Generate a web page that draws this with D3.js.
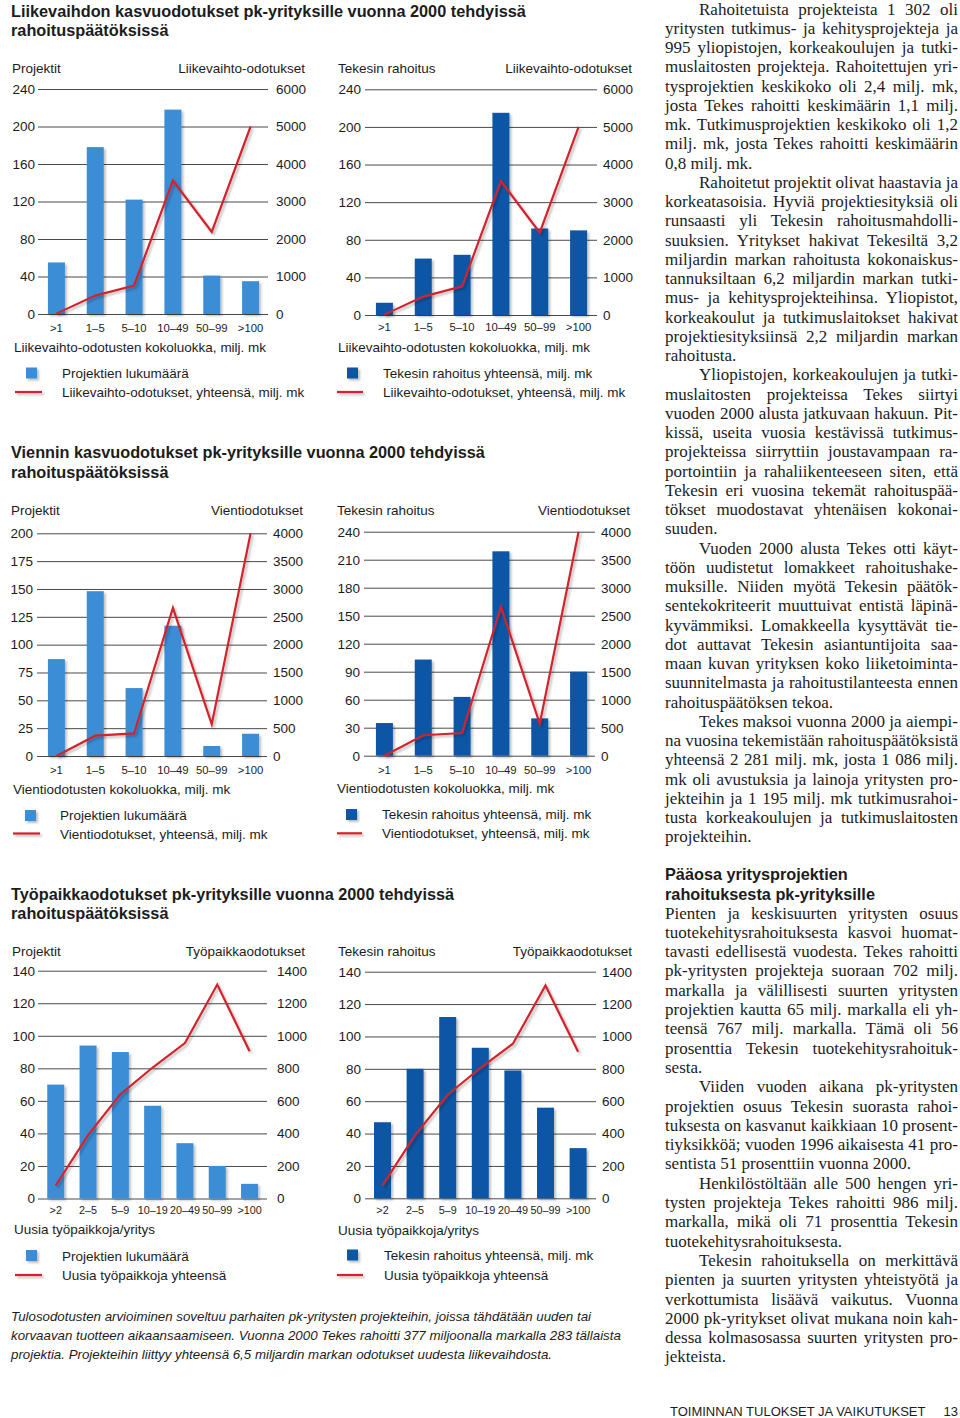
<!DOCTYPE html>
<html><head><meta charset="utf-8">
<script src="https://cdn.jsdelivr.net/npm/d3@7"></script>
<style>
body{margin:0;background:#fff;}
svg{display:block;}
text{font-family:"Liberation Sans",Arial,Helvetica,sans-serif;fill:#1c1c1c;}
</style></head><body>
<svg id="page" width="960" height="1418"></svg>
<script>
// ---------- DATA ----------
const salesCategories = [">1","1–5","5–10","10–49","50–99",">100"];
const salesProjects = [55,178,122,218,41,35];
const salesTekes = [13,60,64,215,92,90];
const salesExpectations = [10,490,760,3560,2190,5000];
const salesLeftTicks = [0,40,80,120,160,200,240];
const salesRightTicks = [0,1000,2000,3000,4000,5000,6000];

const exportCategories = [">1","1–5","5–10","10–49","50–99",">100"];
const exportProjects = [87,148,61,117,9,20];
const exportTekes = [35,103,63,219,40,90];
const exportExpectations = [0,365,405,2660,570,4000];
const exportProjectTicks = [0,25,50,75,100,125,150,175,200];
const exportTekesTicks = [0,30,60,90,120,150,180,210,240];
const exportRightTicks = [0,500,1000,1500,2000,2500,3000,3500,4000];

const jobCategories = [">2","2–5","5–9","10–19","20–49","50–99",">100"];
const jobProjects = [70,94,90,57,34,20,9];
const jobTekes = [47,80,112,93,79,56,31];
const jobExpectations = [80,390,640,805,955,1315,905];
const jobLeftTicks = [0,20,40,60,80,100,120,140];
const jobRightTicks = [0,200,400,600,800,1000,1200,1400];

const titles = {
  sales: ["Liikevaihdon kasvuodotukset pk-yrityksille vuonna 2000 tehdyissä","rahoituspäätöksissä"],
  exp: ["Viennin kasvuodotukset pk-yrityksille vuonna 2000 tehdyissä","rahoituspäätöksissä"],
  jobs: ["Työpaikkaodotukset pk-yrityksille vuonna 2000 tehdyissä","rahoituspäätöksissä"]
};

const columnTop = [
 ["Rahoitetuista projekteista 1 302 oli","yritysten tutkimus- ja kehitysprojekteja ja","995 yliopistojen, korkeakoulujen ja tutki-","muslaitosten projekteja. Rahoitettujen yri-","tysprojektien keskikoko oli 2,4 milj. mk,","josta Tekes rahoitti keskimäärin 1,1 milj.","mk. Tutkimusprojektien keskikoko oli 1,2","milj. mk, josta Tekes rahoitti keskimäärin","0,8 milj. mk."],
 ["Rahoitetut projektit olivat haastavia ja","korkeatasoisia. Hyviä projektiesityksiä oli","runsaasti yli Tekesin rahoitusmahdolli-","suuksien. Yritykset hakivat Tekesiltä 3,2","miljardin markan rahoitusta kokonaiskus-","tannuksiltaan 6,2 miljardin markan tutki-","mus- ja kehitysprojekteihinsa. Yliopistot,","korkeakoulut ja tutkimuslaitokset hakivat","projektiesityksiinsä 2,2 miljardin markan","rahoitusta."],
 ["Yliopistojen, korkeakoulujen ja tutki-","muslaitosten projekteissa Tekes siirtyi","vuoden 2000 alusta jatkuvaan hakuun. Pit-","kissä, useita vuosia kestävissä tutkimus-","projekteissa siirryttiin joustavampaan ra-","portointiin ja rahaliikenteeseen siten, että","Tekesin eri vuosina tekemät rahoituspää-","tökset muodostavat yhtenäisen kokonai-","suuden."],
 ["Vuoden 2000 alusta Tekes otti käyt-","töön uudistetut lomakkeet rahoitushake-","muksille. Niiden myötä Tekesin päätök-","sentekokriteerit muuttuivat entistä läpinä-","kyvämmiksi. Lomakkeella kysyttävät tie-","dot auttavat Tekesin asiantuntijoita saa-","maan kuvan yrityksen koko liiketoiminta-","suunnitelmasta ja rahoitustilanteesta ennen","rahoituspäätöksen tekoa."],
 ["Tekes maksoi vuonna 2000 ja aiempi-","na vuosina tekemistään rahoituspäätöksistä","yhteensä 2 281 milj. mk, josta 1 086 milj.","mk oli avustuksia ja lainoja yritysten pro-","jekteihin ja 1 195 milj. mk tutkimusrahoi-","tusta korkeakoulujen ja tutkimuslaitosten","projekteihin."]
];
const columnHeading = ["Pääosa yritysprojektien","rahoituksesta pk-yrityksille"];
const columnBottom = [
 ["Pienten ja keskisuurten yritysten osuus","tuotekehitysrahoituksesta kasvoi huomat-","tavasti edellisestä vuodesta. Tekes rahoitti","pk-yritysten projekteja suoraan 702 milj.","markalla ja välillisesti suurten yritysten","projektien kautta 65 milj. markalla eli yh-","teensä 767 milj. markalla. Tämä oli 56","prosenttia Tekesin tuotekehitysrahoituk-","sesta."],
 ["Viiden vuoden aikana pk-yritysten","projektien osuus Tekesin suorasta rahoi-","tuksesta on kasvanut kaikkiaan 10 prosent-","tiyksikköä; vuoden 1996 aikaisesta 41 pro-","sentista 51 prosenttiin vuonna 2000."],
 ["Henkilöstöltään alle 500 hengen yri-","tysten projekteja Tekes rahoitti 986 milj.","markalla, mikä oli 71 prosenttia Tekesin","tuotekehitysrahoituksesta."],
 ["Tekesin rahoituksella on merkittävä","pienten ja suurten yritysten yhteistyötä ja","verkottumista lisäävä vaikutus. Vuonna","2000 pk-yritykset olivat mukana noin kah-","dessa kolmasosassa suurten yritysten pro-","jekteista."]
];
const footnoteLines = [
 "Tulosodotusten arvioiminen soveltuu parhaiten pk-yritysten projekteihin, joissa tähdätään uuden tai",
 "korvaavan tuotteen aikaansaamiseen. Vuonna 2000 Tekes rahoitti 377 miljoonalla markalla 283 tällaista",
 "projektia. Projekteihin liittyy yhteensä 6,5 miljardin markan odotukset uudesta liikevaihdosta."
];
const footerText = "TOIMINNAN TULOKSET JA VAIKUTUKSET";
const pageNumber = "13";

// ---------- DRAWING ----------
const svg = d3.select("#page");
const LIGHT = "#3a8dd6", DARK = "#0b56a6", RED = "#d3232c", GRID = "#4a4a4a";
const defs = svg.append("defs");
const flt = defs.append("filter").attr("id","shadow").attr("filterUnits","userSpaceOnUse")
  .attr("x",0).attr("y",0).attr("width",960).attr("height",1418);
flt.append("feDropShadow").attr("dx",2).attr("dy",2).attr("stdDeviation",1.3)
  .attr("flood-color","#000").attr("flood-opacity",0.25);

function title(lines, x, y0, gap) {
  lines.forEach((t,i) => svg.append("text").attr("x",x).attr("y",y0+i*gap)
    .attr("dominant-baseline","central").attr("font-size",16.3).attr("font-weight","bold").text(t));
}

function drawChart(c) {
  const g = svg.append("g");
  const step = (c.x1 - c.x0) / c.categories.length;
  const pad = 1 - 17 / step;
  const x = d3.scaleBand().domain(c.categories).range([c.x0, c.x1]).paddingInner(pad).paddingOuter(pad/2);
  const yL = d3.scaleLinear().domain([0, d3.max(c.leftTicks)]).range([c.y0, c.yTop]);
  const yR = d3.scaleLinear().domain([0, d3.max(c.rightTicks)]).range([c.y0, c.yTop]);

  g.append("g").attr("transform",`translate(${c.gridL},0)`)
    .call(d3.axisLeft(yL).tickValues(c.leftTicks).tickSize(-(c.gridR-c.gridL)).tickPadding(c.leftPad).tickFormat(d3.format("d")))
    .call(s => {
      s.attr("font-family",null).attr("font-size",13.5);
      s.select(".domain").remove();
      s.selectAll(".tick line").attr("stroke",GRID).attr("stroke-width",1);
      s.selectAll(".tick text").attr("fill","#1c1c1c");
    });
  g.append("g").attr("transform",`translate(${c.gridR},0)`)
    .call(d3.axisRight(yR).tickValues(c.rightTicks).tickSize(0).tickPadding(c.rightLabelX-c.gridR).tickFormat(d3.format("d")))
    .call(s => {
      s.attr("font-family",null).attr("font-size",13.5);
      s.select(".domain").remove();
      s.selectAll(".tick text").attr("fill","#1c1c1c");
    });

  g.append("g").attr("filter","url(#shadow)").selectAll("rect").data(c.bars).join("rect")
    .attr("x",(d,i)=>x(c.categories[i])).attr("width",x.bandwidth())
    .attr("y",d=>yL(d)).attr("height",d=>c.y0-yL(d)).attr("fill",c.color);

  const line = d3.line().x((d,i)=>x(c.categories[i])+x.bandwidth()/2).y(d=>yR(d));
  g.append("path").datum(c.line).attr("d",line).attr("fill","none").attr("stroke",RED)
    .attr("stroke-width",2.2).attr("stroke-linejoin","miter").attr("filter","url(#shadow)");

  g.selectAll(".cat").data(c.categories).join("text").attr("class","cat")
    .attr("x",d=>x(d)+x.bandwidth()/2).attr("y",c.catY).attr("text-anchor","middle")
    .attr("dominant-baseline","central").attr("font-size",c.catFS).text(d=>d);

  const txt = (t,xx,yy,anchor) => g.append("text").attr("x",xx).attr("y",yy)
    .attr("text-anchor",anchor||"start").attr("dominant-baseline","central").attr("font-size",13.5).text(t);
  txt(c.headL, c.headLX, c.headY);
  txt(c.headR, c.headRX, c.headY, "end");
  txt(c.xTitle, c.xTitleX, c.xTitleY);
  const L = c.legend;
  g.append("rect").attr("x",L.sqX).attr("y",L.sqY).attr("width",11).attr("height",11)
    .attr("fill",c.color).attr("filter","url(#shadow)");
  g.append("line").attr("x1",L.lx1).attr("x2",L.lx2).attr("y1",L.ly).attr("y2",L.ly)
    .attr("stroke",RED).attr("stroke-width",2.2).attr("filter","url(#shadow)");
  txt(L.t1, L.tx, L.t1y);
  txt(L.t2, L.tx, L.t2y);
}

title(titles.sales, 11, 10.5, 19.5);
title(titles.exp, 11, 452, 19.5);
title(titles.jobs, 11, 893.5, 19.5);

drawChart({categories:salesCategories, bars:salesProjects, line:salesExpectations, color:LIGHT, catFS:11.3,
  x0:37, x1:270, gridL:38, gridR:268, y0:314, yTop:89, leftPad:3, rightLabelX:276,
  leftTicks:salesLeftTicks, rightTicks:salesRightTicks,
  headL:"Projektit", headLX:12, headR:"Liikevaihto-odotukset", headRX:305, headY:68.5,
  catY:327.5, xTitle:"Liikevaihto-odotusten kokoluokka, milj. mk", xTitleX:14, xTitleY:347.5,
  legend:{sqX:26, sqY:367.5, lx1:15, lx2:42, ly:392, tx:62, t1:"Projektien lukumäärä", t1y:373,
    t2:"Liikevaihto-odotukset, yhteensä, milj. mk", t2y:392}});

drawChart({categories:salesCategories, bars:salesTekes, line:salesExpectations, color:DARK, catFS:11.3,
  x0:365, x1:598, gridL:365, gridR:597, y0:315, yTop:89.3, leftPad:4, rightLabelX:603,
  leftTicks:salesLeftTicks, rightTicks:salesRightTicks,
  headL:"Tekesin rahoitus", headLX:338, headR:"Liikevaihto-odotukset", headRX:632, headY:68.5,
  catY:327.3, xTitle:"Liikevaihto-odotusten kokoluokka, milj. mk", xTitleX:338, xTitleY:347,
  legend:{sqX:347, sqY:367.5, lx1:337, lx2:363, ly:392, tx:383, t1:"Tekesin rahoitus yhteensä, milj. mk", t1y:373,
    t2:"Liikevaihto-odotukset, yhteensä, milj. mk", t2y:392}});

drawChart({categories:exportCategories, bars:exportProjects, line:exportExpectations, color:LIGHT, catFS:11.3,
  x0:37, x1:270, gridL:37, gridR:267, y0:756, yTop:533.3, leftPad:4, rightLabelX:273,
  leftTicks:exportProjectTicks, rightTicks:exportRightTicks,
  headL:"Projektit", headLX:11, headR:"Vientiodotukset", headRX:303, headY:510,
  catY:770, xTitle:"Vientiodotusten kokoluokka, milj. mk", xTitleX:13, xTitleY:789.5,
  legend:{sqX:25, sqY:810, lx1:13, lx2:40, ly:833.5, tx:60, t1:"Projektien lukumäärä", t1y:815.5,
    t2:"Vientiodotukset, yhteensä, milj. mk", t2y:834}});

drawChart({categories:exportCategories, bars:exportTekes, line:exportExpectations, color:DARK, catFS:11.3,
  x0:365, x1:598, gridL:364, gridR:595, y0:755.7, yTop:531.7, leftPad:4, rightLabelX:601,
  leftTicks:exportTekesTicks, rightTicks:exportRightTicks,
  headL:"Tekesin rahoitus", headLX:337, headR:"Vientiodotukset", headRX:630, headY:510,
  catY:769.5, xTitle:"Vientiodotusten kokoluokka, milj. mk", xTitleX:337, xTitleY:788.5,
  legend:{sqX:346, sqY:809, lx1:337, lx2:362, ly:833.3, tx:382, t1:"Tekesin rahoitus yhteensä, milj. mk", t1y:814.5,
    t2:"Vientiodotukset, yhteensä, milj. mk", t2y:833.5}});

drawChart({categories:jobCategories, bars:jobProjects, line:jobExpectations, color:LIGHT, catFS:10.8,
  x0:39.6, x1:265.7, gridL:38, gridR:267, y0:1198.5, yTop:970.7, leftPad:3, rightLabelX:277,
  leftTicks:jobLeftTicks, rightTicks:jobRightTicks,
  headL:"Projektit", headLX:12, headR:"Työpaikkaodotukset", headRX:305, headY:951,
  catY:1210, xTitle:"Uusia työpaikkoja/yritys", xTitleX:14, xTitleY:1229.5,
  legend:{sqX:26, sqY:1250, lx1:15, lx2:42, ly:1275, tx:62, t1:"Projektien lukumäärä", t1y:1256,
    t2:"Uusia työpaikkoja yhteensä", t2y:1275}});

drawChart({categories:jobCategories, bars:jobTekes, line:jobExpectations, color:DARK, catFS:10.8,
  x0:366.2, x1:594.4, gridL:365, gridR:596, y0:1198.3, yTop:971.7, leftPad:4, rightLabelX:602,
  leftTicks:jobLeftTicks, rightTicks:jobRightTicks,
  headL:"Tekesin rahoitus", headLX:338, headR:"Työpaikkaodotukset", headRX:632, headY:951,
  catY:1210, xTitle:"Uusia työpaikkoja/yritys", xTitleX:338, xTitleY:1230,
  legend:{sqX:347, sqY:1249.5, lx1:337, lx2:363, ly:1275, tx:384, t1:"Tekesin rahoitus yhteensä, milj. mk", t1y:1255.5,
    t2:"Uusia työpaikkoja yhteensä", t2y:1275}});

// footnote
footnoteLines.forEach((t,i)=> svg.append("text").attr("x",11).attr("y",1316+i*19.2)
  .attr("dominant-baseline","central").attr("font-size",13.3).attr("font-style","italic").attr("fill","#2a2a2a").text(t));

// text column
const COLL = 665, COLR = 958, INDENT = 34, FS = 17;
function column(paras, y0, lh, firstIndent) {
  let n = 0;
  paras.forEach((p,pi) => {
    p.forEach((t,li) => {
      const indent = (li===0 && (pi>0 || firstIndent)) ? INDENT : 0;
      const x = COLL + indent;
      const el = svg.append("text").attr("x",x).attr("y",y0+n*lh)
        .attr("font-size",FS).text(t);
      el.style("font-family","'Liberation Serif','Times New Roman',serif");
      if (li < p.length-1) {
        const w = el.node().getComputedTextLength();
        const spaces = (t.match(/ /g)||[]).length;
        if (spaces>0) el.attr("word-spacing", ((COLR - x) - w)/spaces);
      }
      n++;
    });
  });
}
column(columnTop, 14.5, 19.25, true);
columnHeading.forEach((t,i)=> svg.append("text").attr("x",COLL).attr("y",874+i*19.5)
  .attr("dominant-baseline","central").attr("font-size",16.3).attr("font-weight","bold").text(t));
column(columnBottom, 918.5, 19.3, false);

// footer
svg.append("text").attr("x",670).attr("y",1411).attr("dominant-baseline","central").attr("font-size",13).attr("fill","#222").text(footerText);
svg.append("text").attr("x",958).attr("y",1411).attr("dominant-baseline","central").attr("text-anchor","end").attr("font-size",13).attr("fill","#222").text(pageNumber);
</script>
</body></html>
